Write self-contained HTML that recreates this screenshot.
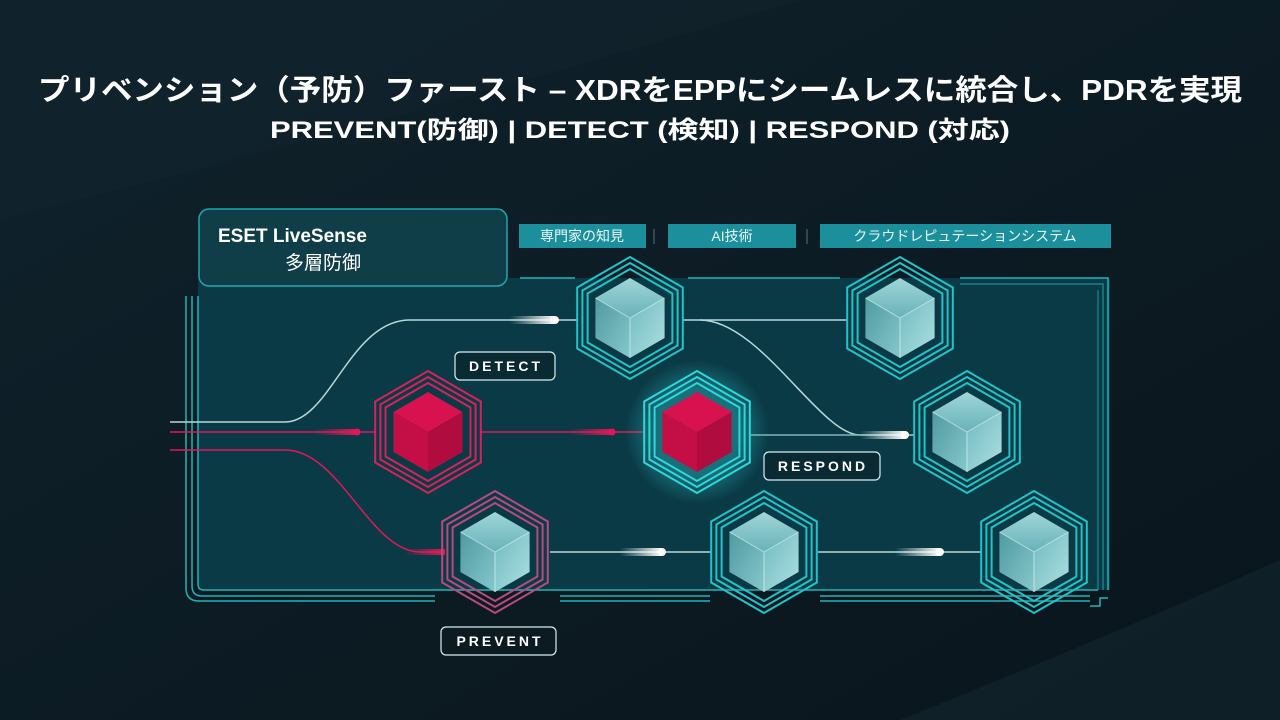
<!DOCTYPE html>
<html><head><meta charset="utf-8"><style>
html,body{margin:0;padding:0;background:#0c1a22;}
svg{display:block}
</style></head><body>
<svg width="1280" height="720" viewBox="0 0 1280 720" xmlns="http://www.w3.org/2000/svg">
<defs>
<linearGradient id="bg" x1="0" y1="0" x2="1" y2="1">
<stop offset="0" stop-color="#0f222c"/><stop offset="1" stop-color="#0a151c"/>
</linearGradient>
<linearGradient id="ct" x1="0" y1="0" x2="0" y2="1"><stop offset="0" stop-color="#9fd6d9"/><stop offset="1" stop-color="#68b2b8"/></linearGradient>
<linearGradient id="cl" x1="0" y1="0" x2="1" y2="1"><stop offset="0" stop-color="#4f9aa1"/><stop offset="1" stop-color="#86c8cc"/></linearGradient>
<linearGradient id="cr" x1="0" y1="0" x2="1" y2="1"><stop offset="0" stop-color="#70bac0"/><stop offset="1" stop-color="#ade0e2"/></linearGradient>
<linearGradient id="glowL" x1="0" y1="0" x2="1" y2="0"><stop offset="0" stop-color="#fff" stop-opacity="0"/><stop offset="1" stop-color="#fff"/></linearGradient>
<linearGradient id="glowR" x1="0" y1="0" x2="1" y2="0"><stop offset="0" stop-color="#e0185a" stop-opacity="0"/><stop offset="1" stop-color="#e0185a"/></linearGradient>
<radialGradient id="halo"><stop offset=".6" stop-color="#2fd6da" stop-opacity=".35"/><stop offset="1" stop-color="#2fd6da" stop-opacity="0"/></radialGradient>
<g id="tealCube">
<polygon points="0,-40 34.6,-20 0,0 -34.6,-20" fill="url(#ct)"/>
<polygon points="-34.6,-20 0,0 0,40 -34.6,20" fill="url(#cl)"/>
<polygon points="34.6,-20 0,0 0,40 34.6,20" fill="url(#cr)"/>
<path d="M0,0 L0,40 M0,0 L34.6,-20 M0,0 L-34.6,-20" stroke="#d8f4f4" stroke-width="1" opacity=".7"/>
</g>
<g id="redCube">
<polygon points="0,-40 34.6,-20 0,0 -34.6,-20" fill="#d8124f"/>
<polygon points="-34.6,-20 0,0 0,40 -34.6,20" fill="#c40f46"/>
<polygon points="34.6,-20 0,0 0,40 34.6,20" fill="#b00c3f"/>
</g>
<g id="rings" fill="none" stroke-width="2">
<polygon points="0,-61 52.8,-30.5 52.8,30.5 0,61 -52.8,30.5 -52.8,-30.5"/>
<polygon points="0,-55 47.6,-27.5 47.6,27.5 0,55 -47.6,27.5 -47.6,-27.5"/>
<polygon points="0,-49 42.4,-24.5 42.4,24.5 0,49 -42.4,24.5 -42.4,-24.5"/>
</g>
</defs>
<rect width="1280" height="720" fill="url(#bg)"/>
<path d="M0,220 Q400,120 800,0 L0,0Z" fill="#11242e" opacity=".5"/>
<path d="M900,720 Q1100,640 1280,560 L1280,720Z" fill="#13262f" opacity=".6"/>

<text x="640" y="100" text-anchor="middle" fill="#fff" font-family="'Liberation Sans','Noto Sans CJK JP',sans-serif" font-weight="bold" font-size="29" textLength="1204" lengthAdjust="spacingAndGlyphs">プリベンション（予防）ファースト – XDRをEPPにシームレスに統合し、PDRを実現</text>
<text x="640" y="138" text-anchor="middle" fill="#fff" font-family="'Liberation Sans','Noto Sans CJK JP',sans-serif" font-weight="bold" font-size="24" textLength="740" lengthAdjust="spacingAndGlyphs">PREVENT(防御) | DETECT (検知) | RESPOND (対応)</text>

<rect x="198" y="278" width="912" height="312" fill="#0a3a46"/>
<g fill="none" stroke="#1fb3b8" stroke-width="1.5">
<path d="M186,296 V588 Q186,601 199,601 H435 M560,601 H710 M820,601 H1090"/>
<path d="M192,296 V586 Q192,596 202,596 H435 M560,596 H710 M820,596 H1090"/>
<path d="M198,296 V584 Q198,590 204,590 H1098"/>
<path d="M520,278 H575 M688,278 H840 M960,278 H1108 V590"/>
<path d="M960,284 H1103 V590" opacity=".6"/>
<path d="M1098,290 V590" opacity=".5"/>
<path d="M1090,606 H1100 V598 H1108"/>
</g>
<rect x="199" y="209" width="308" height="77" rx="10" fill="#0f3e49" stroke="#1fa5ac" stroke-width="1.5"/>
<text x="218" y="242" fill="#fff" font-family="'Liberation Sans',sans-serif" font-weight="bold" font-size="19">ESET LiveSense</text>
<text x="285" y="269" fill="#fff" font-family="'Liberation Sans','Noto Sans CJK JP',sans-serif" font-size="19">多層防御</text>
<g font-family="'Liberation Sans','Noto Sans CJK JP',sans-serif" font-size="14" fill="#e8f8f8" text-anchor="middle">
<rect x="519" y="224" width="127" height="24" fill="#1b8f9b"/><text x="582" y="241">専門家の知見</text>
<rect x="668" y="224" width="128" height="24" fill="#1b8f9b"/><text x="732" y="241">AI技術</text>
<rect x="820" y="224" width="291" height="24" fill="#1b8f9b"/><text x="965" y="241">クラウドレピュテーションシステム</text>
</g>
<path d="M654,229 V244 M807,229 V244" stroke="#3a5660" stroke-width="1.5"/>

<g fill="none" stroke-width="1.5">
<path d="M170,422 H285 C330,422 350,320 410,320 H577" stroke="#b7d8da"/>
<path d="M683,320 H847" stroke="#b7d8da"/>
<path d="M700,320 C760,320 820,435 860,435 H915" stroke="#b7d8da"/>
<path d="M750,435 H915" stroke="#7fb6ba"/>
<path d="M550,552 H712 M818,552 H982" stroke="#b7d8da"/>
<path d="M170,432 H375 M480,432 H645" stroke="#e0185a"/>
<path d="M170,450 H285 C340,450 370,552 420,552 H445" stroke="#e0185a"/>
</g>
<g>
<rect x="510" y="316" width="45" height="8" fill="url(#glowL)"/><circle cx="555" cy="320" r="4" fill="#fff"/>
<rect x="860" y="431" width="45" height="8" fill="url(#glowL)"/><circle cx="905" cy="435" r="4" fill="#fff"/>
<rect x="620" y="548" width="42" height="8" fill="url(#glowL)"/><circle cx="662" cy="552" r="4" fill="#fff"/>
<rect x="895" y="548" width="45" height="8" fill="url(#glowL)"/><circle cx="940" cy="552" r="4" fill="#fff"/>
<rect x="315" y="429" width="42" height="6" fill="url(#glowR)"/><circle cx="357" cy="432" r="3.5" fill="#e0185a"/>
<rect x="570" y="429" width="42" height="6" fill="url(#glowR)"/><circle cx="612" cy="432" r="3.5" fill="#e0185a"/>
<rect x="405" y="549" width="40" height="6" fill="url(#glowR)"/>
</g>

<circle cx="697" cy="432" r="72" fill="url(#halo)"/>
<g transform="translate(630,318)"><use href="#rings" stroke="#22c3c8"/><use href="#tealCube"/></g>
<g transform="translate(900,318)"><use href="#rings" stroke="#22c3c8"/><use href="#tealCube"/></g>
<g transform="translate(428,432)"><use href="#rings" stroke="#d8215d"/><use href="#redCube"/></g>
<g transform="translate(697,432)"><use href="#rings" stroke="#2fd6da"/><use href="#redCube"/></g>
<g transform="translate(967,432)"><use href="#rings" stroke="#22c3c8"/><use href="#tealCube"/></g>
<g transform="translate(495,552)"><use href="#rings" stroke="#b94a80"/><use href="#tealCube"/></g>
<g transform="translate(764,552)"><use href="#rings" stroke="#22c3c8"/><use href="#tealCube"/></g>
<g transform="translate(1034,552)"><use href="#rings" stroke="#22c3c8"/><use href="#tealCube"/></g>

<g font-family="'Liberation Sans',sans-serif" font-weight="bold" font-size="14" fill="#fff" letter-spacing="3" text-anchor="middle">
<rect x="455" y="352" width="100" height="28" rx="5" fill="#0a2a33" stroke="#d8eef0" stroke-width="1.2"/><text x="506" y="371">DETECT</text>
<rect x="764" y="452" width="116" height="28" rx="5" fill="#0a2a33" stroke="#d8eef0" stroke-width="1.2"/><text x="823" y="471">RESPOND</text>
<rect x="441" y="627" width="115" height="28" rx="5" fill="#0c1a22" stroke="#d8eef0" stroke-width="1.2"/><text x="500" y="646">PREVENT</text>
</g>
</svg>
</body></html>
